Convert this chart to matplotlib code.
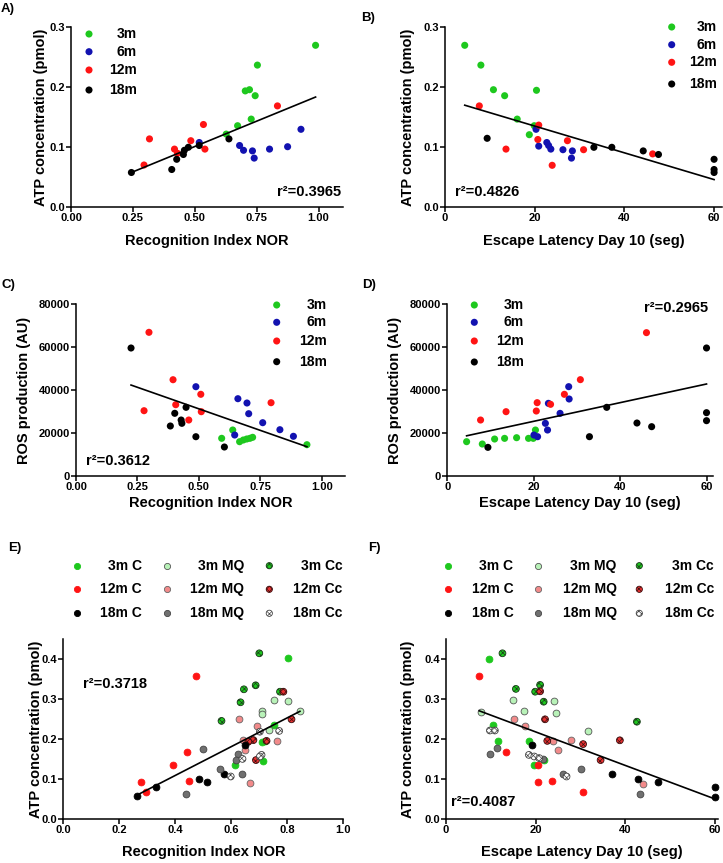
import matplotlib.pyplot as plt

W, H = 723, 863
plt.rcParams['font.family'] = ['Liberation Sans', 'DejaVu Sans']
plt.rcParams['font.weight'] = 'bold'
plt.rcParams['hatch.linewidth'] = 0.5

# ---------------- data ----------------
# A) ATP vs Recognition Index NOR
a_nor_3m = [0.988, 0.753, 0.704, 0.721, 0.744, 0.728, 0.673, 0.627]
a_atp_3m = [0.270, 0.237, 0.194, 0.196, 0.186, 0.147, 0.136, 0.122]
a_nor_6m = [0.518, 0.681, 0.697, 0.733, 0.740, 0.802, 0.875, 0.929]
a_atp_6m = [0.108, 0.103, 0.095, 0.094, 0.082, 0.097, 0.101, 0.130]
a_nor_12m = [0.295, 0.317, 0.418, 0.430, 0.484, 0.535, 0.541, 0.834]
a_atp_12m = [0.0705, 0.114, 0.097, 0.090, 0.111, 0.138, 0.097, 0.169]
a_nor_18m = [0.244, 0.407, 0.427, 0.454, 0.458, 0.474, 0.518, 0.638]
a_atp_18m = [0.058, 0.063, 0.080, 0.088, 0.095, 0.100, 0.103, 0.114]
a_fit = (0.169, 0.0168)   # slope, intercept

# B) ATP vs escape latency
b_lat_3m = [4.4, 8.0, 10.8, 13.3, 20.4, 16.1, 19.9, 18.8]
b_atp_3m = [0.270, 0.237, 0.196, 0.186, 0.195, 0.147, 0.136, 0.121]
b_lat_6m = [20.3, 20.9, 22.7, 23.1, 23.6, 26.3, 28.2, 28.4]
b_atp_6m = [0.130, 0.102, 0.108, 0.103, 0.097, 0.096, 0.082, 0.094]
b_lat_12m = [7.65, 13.6, 20.9, 20.7, 23.9, 27.3, 30.9, 46.3]
b_atp_12m = [0.169, 0.097, 0.137, 0.113, 0.070, 0.111, 0.096, 0.089]
b_lat_18m = [9.4, 33.2, 37.2, 44.2, 47.6, 60, 60, 60]
b_atp_18m = [0.115, 0.100, 0.100, 0.094, 0.088, 0.080, 0.063, 0.058]
b_fit = (-0.00223, 0.180)

# C) ROS vs NOR
c_nor_3m = [0.940, 0.593, 0.638, 0.666, 0.681, 0.695, 0.708, 0.719]
c_ros_3m = [14470, 17450, 21330, 15870, 16660, 17130, 17450, 17920]
c_nor_6m = [0.488, 0.659, 0.696, 0.703, 0.760, 0.830, 0.885, 0.646]
c_ros_6m = [41540, 35940, 33930, 28940, 24740, 21470, 18390, 18990]
c_nor_12m = [0.297, 0.277, 0.395, 0.406, 0.508, 0.510, 0.459, 0.794]
c_ros_12m = [66920, 30340, 44800, 33140, 37990, 29870, 25990, 34070]
c_nor_18m = [0.224, 0.402, 0.448, 0.384, 0.428, 0.431, 0.488, 0.604]
c_ros_18m = [59600, 29120, 31920, 23200, 25990, 24450, 18200, 13390]
c_fit = (-40196, 51314)

# D) ROS vs escape latency
d_lat_3m = [4.47, 8.1, 10.95, 13.26, 16.04, 18.8, 19.9, 20.4]
d_ros_3m = [15880, 14790, 17120, 17430, 17740, 17430, 17430, 21320]
d_lat_6m = [20.05, 20.9, 22.7, 23.2, 23.4, 26.1, 28.1, 28.2]
d_ros_6m = [18990, 18210, 24440, 21320, 33770, 29100, 41560, 35800]
d_lat_12m = [7.7, 13.6, 20.6, 20.8, 23.9, 27.1, 30.8, 46.1]
d_ros_12m = [25990, 29880, 30190, 34090, 33310, 37980, 44830, 66770]
d_lat_18m = [9.4, 32.9, 36.9, 43.9, 47.3, 60, 60, 60]
d_ros_18m = [13230, 18210, 31910, 24590, 22880, 59610, 29420, 25680]
d_fit = (435.4, 16677)

# E) ATP vs NOR, by age and treatment
e_nor_3m_c = [0.804, 0.754, 0.708, 0.720, 0.714, 0.613]
e_atp_3m_c = [0.4025, 0.236, 0.194, 0.197, 0.147, 0.135]
e_nor_3m_mq = [0.754, 0.804, 0.708, 0.708, 0.845, 0.735]
e_atp_3m_mq = [0.298, 0.297, 0.272, 0.263, 0.271, 0.2225]
e_nor_3m_cc = [0.700, 0.645, 0.687, 0.774, 0.633, 0.565]
e_atp_3m_cc = [0.415, 0.325, 0.335, 0.319, 0.2925, 0.246]
e_nor_12m_c = [0.474, 0.443, 0.390, 0.449, 0.276, 0.294]
e_atp_12m_c = [0.359, 0.1675, 0.136, 0.096, 0.093, 0.068]
e_nor_12m_mq = [0.629, 0.693, 0.762, 0.643, 0.649, 0.667]
e_atp_12m_mq = [0.251, 0.233, 0.196, 0.198, 0.173, 0.090]
e_nor_12m_cc = [0.786, 0.815, 0.679, 0.661, 0.726, 0.688]
e_atp_12m_cc = [0.319, 0.250, 0.198, 0.194, 0.196, 0.148]
e_nor_18m_c = [0.649, 0.575, 0.486, 0.514, 0.330, 0.262]
e_atp_18m_c = [0.186, 0.113, 0.102, 0.0925, 0.082, 0.059]
e_nor_18m_mq = [0.498, 0.625, 0.617, 0.560, 0.637, 0.437]
e_atp_18m_mq = [0.177, 0.163, 0.148, 0.127, 0.113, 0.064]
e_nor_18m_cc = [0.702, 0.771, 0.640, 0.708, 0.702, 0.598]
e_atp_18m_cc = [0.219, 0.221, 0.151, 0.161, 0.157, 0.107]
e_fit = (0.360, -0.0343)

# F) ATP vs escape latency, by age and treatment
f_lat_3m_c = [9.67, 10.6, 11.7, 18.6, 19.6, 21.9]
f_atp_3m_c = [0.401, 0.236, 0.196, 0.197, 0.136, 0.148]
f_lat_3m_mq = [7.7, 15.0, 17.5, 24.1, 24.5, 31.6]
f_atp_3m_mq = [0.269, 0.298, 0.272, 0.297, 0.265, 0.222]
f_lat_3m_cc = [12.6, 21.0, 15.6, 19.9, 21.8, 42.6]
f_atp_3m_cc = [0.415, 0.336, 0.326, 0.319, 0.294, 0.244]
f_lat_12m_c = [7.4, 13.4, 20.6, 20.5, 23.7, 30.6]
f_atp_12m_c = [0.359, 0.168, 0.136, 0.094, 0.097, 0.069]
f_lat_12m_mq = [15.2, 17.6, 23.9, 25.1, 28.0, 43.9]
f_atp_12m_mq = [0.251, 0.233, 0.196, 0.173, 0.198, 0.089]
f_lat_12m_cc = [21.0, 22.1, 22.6, 30.6, 34.5, 38.8]
f_atp_12m_cc = [0.320, 0.250, 0.196, 0.188, 0.148, 0.1975]
f_lat_18m_c = [19.3, 36.95, 42.9, 47.4, 60, 60]
f_atp_18m_c = [0.186, 0.113, 0.100, 0.0925, 0.080, 0.057]
f_lat_18m_mq = [11.4, 9.8, 21.6, 26.2, 30.1, 43.3]
f_atp_18m_mq = [0.1775, 0.163, 0.150, 0.113, 0.126, 0.064]
f_lat_18m_cc = [9.8, 10.9, 18.5, 19.7, 20.8, 26.9]
f_atp_18m_cc = [0.222, 0.222, 0.161, 0.157, 0.153, 0.107]
f_fit = (-0.00419, 0.3023)

age_labels = ['3m', '6m', '12m', '18m']
treat_labels = ['3m C', '3m MQ', '3m Cc', '12m C', '12m MQ', '12m Cc', '18m C', '18m MQ', '18m Cc']

# ---------------- styles ----------------
GREEN, BLUE, RED = '#1ec81e', '#1212b0', '#ff1414'
age_colors = [GREEN, BLUE, RED, 'black']
# (face, edge, hatch) for the 9 treatment groups
treat_styles = [
    (GREEN, GREEN, None), ('#b8f2b8', '#555555', None), (GREEN, '#1a3a1a', 'xxxxxx'),
    (RED, RED, None), ('#f28a8a', '#666666', None), ('#e83030', '#3a1010', 'xxxxxx'),
    ('black', 'black', None), ('#707070', '#444444', None), ('white', '#444444', 'xxxxxx'),
]

fig = plt.figure(figsize=(W / 100, H / 100), dpi=100)


def make_ax(left, top, right, bottom):
    return fig.add_axes([left / W, 1 - bottom / H, (right - left) / W, (bottom - top) / H])


def style_ax(ax, box, xlabel, ylabel, ylab_px, xlab_px):
    left, top, right, bottom = box
    for s in ['top', 'right']:
        ax.spines[s].set_visible(False)
    for s in ['left', 'bottom']:
        ax.spines[s].set_linewidth(1.1)
    ax.tick_params(direction='out', length=3.6, width=1.1, pad=0.8, labelsize=8)
    ax.set_xlabel(xlabel, fontsize=10.5, fontweight='bold')
    ax.set_ylabel(ylabel, fontsize=10.5, fontweight='bold')
    ax.yaxis.set_label_coords((ylab_px - left) / (right - left), 0.5)
    ax.xaxis.set_label_coords(0.5, (bottom - xlab_px) / (bottom - top))


def fit_line(ax, xs, fit):
    x0, x1 = min(xs), max(xs)
    ax.plot([x0, x1], [fit[0] * x0 + fit[1], fit[0] * x1 + fit[1]], color='black', lw=1.2, zorder=5)


# overlay for legends / panel letters in pixel coordinates
ov = fig.add_axes([0, 0, 1, 1], zorder=10)
ov.set_xlim(0, W)
ov.set_ylim(H, 0)
ov.axis('off')


def age_legend(mx, tx, rows):
    for lab, col, y in zip(age_labels, age_colors, rows):
        ov.scatter([mx], [y], s=26, color=col, edgecolors='none')
        ov.text(tx, y, lab, ha='right', va='center', fontsize=10, fontweight='bold')


def treat_legend(mxs, txs, rows):
    for i, lab in enumerate(treat_labels):
        r, c = divmod(i, 3)
        fc, ec, ht = treat_styles[i]
        ov.scatter([mxs[c]], [rows[r]], s=20, facecolors=fc, edgecolors=ec, linewidths=0.6, hatch=ht)
        ov.text(txs[c], rows[r], lab, ha='right', va='center', fontsize=10, fontweight='bold')


# ---- A
box = (71, 27.3, 343.3, 207.3)
ax = make_ax(*box)
for xs, ys, col in zip([a_nor_3m, a_nor_6m, a_nor_12m, a_nor_18m], [a_atp_3m, a_atp_6m, a_atp_12m, a_atp_18m], age_colors):
    ax.scatter(xs, ys, s=26, color=col, edgecolors='none', zorder=3)
fit_line(ax, a_nor_3m + a_nor_6m + a_nor_12m + a_nor_18m, a_fit)
ax.set_xlim(0, 1.10)
ax.set_ylim(0, 0.3)
ax.set_xticks([0, 0.25, 0.5, 0.75, 1.0])
ax.set_xticklabels(['0.00', '0.25', '0.50', '0.75', '1.00'])
ax.set_yticks([0, 0.1, 0.2, 0.3])
ax.set_yticklabels(['0.0', '0.1', '0.2', '0.3'])
style_ax(ax, box, 'Recognition Index NOR', 'ATP concentration (pmol)', 48, 234)
ov.text(341, 192, 'r²=0.3965', ha='right', va='center', fontsize=10.5, fontweight='bold')
age_legend(89, 137, [34, 51.7, 70, 90])
ov.text(1, 9, 'A)', ha='left', va='center', fontsize=9.5, fontweight='bold')

# ---- B
box = (445, 27.3, 721.7, 207.3)
ax = make_ax(*box)
for xs, ys, col in zip([b_lat_3m, b_lat_6m, b_lat_12m, b_lat_18m], [b_atp_3m, b_atp_6m, b_atp_12m, b_atp_18m], age_colors):
    ax.scatter(xs, ys, s=26, color=col, edgecolors='none', zorder=3, clip_on=False)
fit_line(ax, b_lat_3m + b_lat_6m + b_lat_12m + b_lat_18m, b_fit)
ax.set_xlim(0, 61.7)
ax.set_ylim(0, 0.3)
ax.set_xticks([0, 20, 40, 60])
ax.set_yticks([0, 0.1, 0.2, 0.3])
ax.set_yticklabels(['0.0', '0.1', '0.2', '0.3'])
style_ax(ax, box, 'Escape Latency Day 10 (seg)', 'ATP concentration (pmol)', 415, 234)
ov.text(455, 192, 'r²=0.4826', ha='left', va='center', fontsize=10.5, fontweight='bold')
age_legend(671.7, 717, [27, 44.7, 62.3, 84])
ov.text(361, 18, 'B)', ha='left', va='center', fontsize=9.5, fontweight='bold')

# ---- C
box = (76, 304.3, 345, 475.7)
ax = make_ax(*box)
for xs, ys, col in zip([c_nor_3m, c_nor_6m, c_nor_12m, c_nor_18m], [c_ros_3m, c_ros_6m, c_ros_12m, c_ros_18m], age_colors):
    ax.scatter(xs, ys, s=26, color=col, edgecolors='none', zorder=3)
fit_line(ax, c_nor_3m + c_nor_6m + c_nor_12m + c_nor_18m, c_fit)
ax.set_xlim(0, 1.095)
ax.set_ylim(0, 80000)
ax.set_xticks([0, 0.25, 0.5, 0.75, 1.0])
ax.set_xticklabels(['0.00', '0.25', '0.50', '0.75', '1.00'])
ax.set_yticks([0, 20000, 40000, 60000, 80000])
style_ax(ax, box, 'Recognition Index NOR', 'ROS production (AU)', 31, 496)
ov.text(86, 461, 'r²=0.3612', ha='left', va='center', fontsize=10.5, fontweight='bold')
age_legend(276.7, 327, [305, 322.3, 341, 361.7])
ov.text(2, 285, 'C)', ha='left', va='center', fontsize=9.5, fontweight='bold')

# ---- D
box = (447.3, 304.3, 713, 475.7)
ax = make_ax(*box)
for xs, ys, col in zip([d_lat_3m, d_lat_6m, d_lat_12m, d_lat_18m], [d_ros_3m, d_ros_6m, d_ros_12m, d_ros_18m], age_colors):
    ax.scatter(xs, ys, s=26, color=col, edgecolors='none', zorder=3, clip_on=False)
fit_line(ax, d_lat_3m + d_lat_6m + d_lat_12m + d_lat_18m, d_fit)
ax.set_xlim(0, 61.5)
ax.set_ylim(0, 80000)
ax.set_xticks([0, 20, 40, 60])
ax.set_yticks([0, 20000, 40000, 60000, 80000])
style_ax(ax, box, 'Escape Latency Day 10 (seg)', 'ROS production (AU)', 402, 496)
ov.text(708, 308, 'r²=0.2965', ha='right', va='center', fontsize=10.5, fontweight='bold')
age_legend(474.3, 524, [305, 322.3, 341, 362])
ov.text(362, 285, 'D)', ha='left', va='center', fontsize=9.5, fontweight='bold')

# ---- E
box = (63.3, 639.3, 343.3, 819.3)
ax = make_ax(*box)
e_x = [e_nor_3m_c, e_nor_3m_mq, e_nor_3m_cc, e_nor_12m_c, e_nor_12m_mq, e_nor_12m_cc,
       e_nor_18m_c, e_nor_18m_mq, e_nor_18m_cc]
e_y = [e_atp_3m_c, e_atp_3m_mq, e_atp_3m_cc, e_atp_12m_c, e_atp_12m_mq, e_atp_12m_cc,
       e_atp_18m_c, e_atp_18m_mq, e_atp_18m_cc]
for xs, ys, (fc, ec, ht) in zip(e_x, e_y, treat_styles):
    ax.scatter(xs, ys, s=24, facecolors=fc, edgecolors=ec, linewidths=0.6, hatch=ht, zorder=3)
fit_line(ax, sum(e_x, []), e_fit)
ax.set_xlim(0, 1.0)
ax.set_ylim(0, 0.45)
ax.set_xticks([0, 0.2, 0.4, 0.6, 0.8, 1.0])
ax.set_yticks([0, 0.1, 0.2, 0.3, 0.4])
ax.set_yticklabels(['0.0', '0.1', '0.2', '0.3', '0.4'])
style_ax(ax, box, 'Recognition Index NOR', 'ATP concentration (pmol)', 43, 845)
ov.text(83, 684, 'r²=0.3718', ha='left', va='center', fontsize=10.5, fontweight='bold')
treat_legend([76.7, 166.7, 269.3], [141.7, 244.3, 342.7], [565.7, 589.3, 613.3])
ov.text(8, 548, 'E)', ha='left', va='center', fontsize=9.5, fontweight='bold')

# ---- F
box = (446, 639.3, 718, 819.3)
ax = make_ax(*box)
f_x = [f_lat_3m_c, f_lat_3m_mq, f_lat_3m_cc, f_lat_12m_c, f_lat_12m_mq, f_lat_12m_cc,
       f_lat_18m_c, f_lat_18m_mq, f_lat_18m_cc]
f_y = [f_atp_3m_c, f_atp_3m_mq, f_atp_3m_cc, f_atp_12m_c, f_atp_12m_mq, f_atp_12m_cc,
       f_atp_18m_c, f_atp_18m_mq, f_atp_18m_cc]
for xs, ys, (fc, ec, ht) in zip(f_x, f_y, treat_styles):
    ax.scatter(xs, ys, s=24, facecolors=fc, edgecolors=ec, linewidths=0.6, hatch=ht, zorder=3, clip_on=False)
fit_line(ax, sum(f_x, []), f_fit)
ax.set_xlim(0, 60.7)
ax.set_ylim(0, 0.45)
ax.set_xticks([0, 20, 40, 60])
ax.set_yticks([0, 0.1, 0.2, 0.3, 0.4])
ax.set_yticklabels(['0.0', '0.1', '0.2', '0.3', '0.4'])
style_ax(ax, box, 'Escape Latency Day 10 (seg)', 'ATP concentration (pmol)', 415, 845)
ov.text(451, 802, 'r²=0.4087', ha='left', va='center', fontsize=10.5, fontweight='bold')
treat_legend([448.3, 538.3, 639.3], [513.3, 616.7, 714], [565.7, 589.3, 613.3])
ov.text(368, 548, 'F)', ha='left', va='center', fontsize=9.5, fontweight='bold')

fig.savefig('out.png', dpi=100)
